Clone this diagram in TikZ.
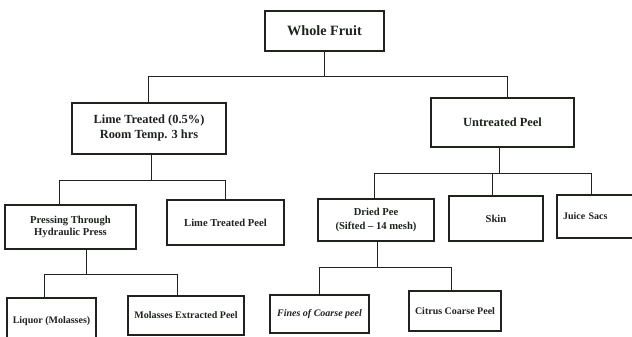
\documentclass[tikz,border=0pt]{standalone}
\usepackage{fontspec}
\setmainfont{Liberation Serif}
\definecolor{ink}{HTML}{1E231E}
\begin{document}
\begin{tikzpicture}[x=1pt,y=-1pt,
  box/.style={draw=ink, line width=1.7pt, rectangle, inner sep=2pt, align=center, text=ink, font=\bfseries},
  lvA/.style={box, font=\fontsize{14.2}{16}\selectfont\bfseries},
  lvB/.style={box, font=\fontsize{12.4}{15}\selectfont\bfseries},
  lvC/.style={box, font=\fontsize{10.6}{12.5}\selectfont\bfseries},
  lvD/.style={box, font=\fontsize{10}{12}\selectfont\bfseries},
  conn/.style={draw=ink, line width=0.8pt}]
\useasboundingbox (0,0) rectangle (632,337);
\fill[white] (0,0) rectangle (632,337);
\clip (0,0) rectangle (632,337);
% level 0
\node[lvA, minimum width=119pt, minimum height=40pt] (wf) at (324.5,31) {Whole Fruit};
% level 1
\node[lvB, minimum width=154pt, minimum height=51pt] (lime) at (149,128.5) {Lime Treated (0.5\%)\\Room Temp. 3 hrs};
\node[lvB, minimum width=143pt, minimum height=49pt] (untr) at (502.5,122.5) {Untreated Peel};
% level 2
\node[lvC, minimum width=131pt, minimum height=44pt, font=\fontsize{10.6}{12}\selectfont\bfseries] (press) at (70.5,227) {Pressing Through\\Hydraulic Press};
\node[lvC, minimum width=117pt, minimum height=45pt] (ltp) at (225.5,222.5) {Lime Treated Peel};
\node[lvC, minimum width=116pt, minimum height=42pt, font=\fontsize{10.6}{14.5}\selectfont\bfseries] (dried) at (376,220) {Dried Pee\\(Sifted -- 14 mesh)};
\node[lvC, minimum width=94pt, minimum height=45pt] (skin) at (496,218.5) {Skin};
\node[lvC, minimum height=43pt, text width=91pt, align=left, inner xsep=6pt, font=\fontsize{10}{12}\selectfont\bfseries] (juice) at (608.5,216.5) {Juice Sacs};
% level 3
\node[lvD, minimum width=89pt, minimum height=46pt] (liq) at (51.5,321) {Liquor (Molasses)};
\node[lvD, minimum width=116pt, minimum height=39pt] (mol) at (186,315.5) {Molasses Extracted Peel};
\node[lvD, minimum width=99pt, minimum height=38pt, font=\fontsize{10}{12}\selectfont\bfseries\itshape] (fines) at (319.5,314) {Fines of Coarse peel};
\node[lvD, minimum width=92pt, minimum height=40pt] (cit) at (455,311) {Citrus Coarse Peel};
% junction points
\coordinate (a0) at (324,76);
\coordinate (a1) at (148,76);
\coordinate (a2) at (507,76);
\coordinate (b0) at (151,180);
\coordinate (b1) at (59,180);
\coordinate (b2) at (225,180);
\coordinate (c0) at (499,173);
\coordinate (c1) at (374,173);
\coordinate (c2) at (492,173);
\coordinate (c3) at (591,173);
\coordinate (d0) at (86,274);
\coordinate (d1) at (44,274);
\coordinate (d2) at (177,274);
\coordinate (e0) at (377,267);
\coordinate (e1) at (319,267);
\coordinate (e2) at (451,267);
% connectors
\draw[conn] (wf.south -| a0) -- (a0);
\draw[conn] (lime.north -| a1) -- (a1) -- (a2) -- (untr.north -| a2);
\draw[conn] (lime.south -| b0) -- (b0);
\draw[conn] (press.north -| b1) -- (b1) -- (b2) -- (ltp.north -| b2);
\draw[conn] (untr.south -| c0) -- (c0);
\draw[conn] (dried.north -| c1) -- (c1) -- (c3) -- (juice.north -| c3);
\draw[conn] (c2) -- (skin.north -| c2);
\draw[conn] (press.south -| d0) -- (d0);
\draw[conn] (liq.north -| d1) -- (d1) -- (d2) -- (mol.north -| d2);
\draw[conn] (dried.south -| e0) -- (e0);
\draw[conn] (fines.north -| e1) -- (e1) -- (e2) -- (cit.north -| e2);
\end{tikzpicture}
\end{document}
